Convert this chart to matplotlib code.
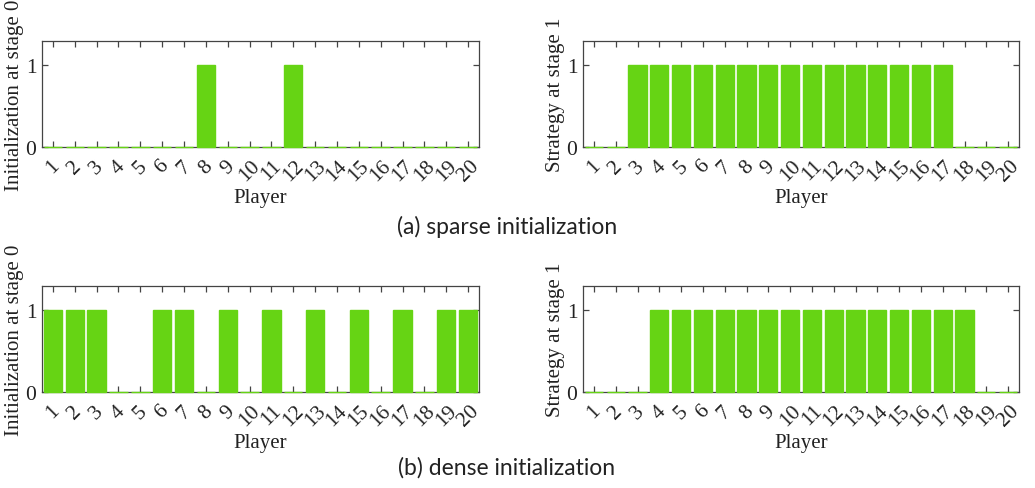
import matplotlib
matplotlib.use("Agg")
import matplotlib.pyplot as plt
from matplotlib.transforms import ScaledTranslation

# players 1..20
players = list(range(1, 21))

# (a) sparse initialization
sparse_init = [0, 0, 0, 0, 0, 0, 0, 1, 0, 0, 0, 1, 0, 0, 0, 0, 0, 0, 0, 0]
sparse_stage1 = [0, 0, 1, 1, 1, 1, 1, 1, 1, 1, 1, 1, 1, 1, 1, 1, 1, 0, 0, 0]

# (b) dense initialization
dense_init = [1, 1, 1, 0, 0, 1, 1, 0, 1, 0, 1, 0, 1, 0, 1, 0, 1, 0, 1, 1]
dense_stage1 = [0, 0, 0, 1, 1, 1, 1, 1, 1, 1, 1, 1, 1, 1, 1, 1, 1, 1, 0, 0]

captions = ["(a) sparse initialization", "(b) dense initialization"]
ylabels = ["Initialization at stage 0", "Strategy at stage 1"]

GREEN = "#66d414"
INK = "#222222"
SERIF = "Liberation Serif"

W, H = 1035, 489
fig = plt.figure(figsize=(W / 100, H / 100), dpi=100)


def px_axes(x0, x1, ytop, ybot):
    return fig.add_axes([x0 / W, 1 - ybot / H, (x1 - x0) / W, (ybot - ytop) / H])


def draw_panel(ax, values, ylabel):
    bars = ax.bar(players, values, width=0.84, color=GREEN, edgecolor=GREEN,
                  linewidth=1.0, zorder=3)
    for b in bars:
        b.set_clip_on(False)
    ax.set_xlim(0.5, 20.5)
    ax.set_ylim(0, 1.3)
    ax.set_xticks(players)
    ax.set_xticklabels([str(p) for p in players], rotation=45, ha="center",
                       fontsize=15.5, family=SERIF, color=INK)
    # nudge the rotated labels a little to the right, like the original
    shift = ScaledTranslation(2.5 / 100, 0, fig.dpi_scale_trans)
    for lbl in ax.get_xticklabels():
        lbl.set_transform(lbl.get_transform() + shift)
    ax.set_yticks([0, 1])
    ax.set_yticklabels(["0", "1"], fontsize=15.5, family=SERIF, color=INK)
    ax.tick_params(direction="in", top=True, right=True, length=4.5, width=0.9,
                   color="#444444", pad=4)
    ax.tick_params(axis="x", pad=6.5)
    for s in ax.spines.values():
        s.set_color("#444444")
        s.set_linewidth(0.9)
    ax.set_xlabel("Player", fontsize=15, family=SERIF, color=INK, labelpad=2)
    ax.set_ylabel(ylabel, fontsize=15, family=SERIF, color=INK, labelpad=1)


rows = [(sparse_init, sparse_stage1, 42, 148, 227),
        (dense_init, dense_stage1, 287, 393, 468)]

for (left_vals, right_vals, ytop, ybot, ycap), cap in zip(rows, captions):
    axl = px_axes(42, 479, ytop, ybot)
    draw_panel(axl, left_vals, ylabels[0])
    axr = px_axes(583, 1019, ytop, ybot)
    draw_panel(axr, right_vals, ylabels[1])
    fig.text(507 / W, 1 - ycap / H, cap, ha="center", va="center",
             fontsize=16.5, family="Lato", color=INK)

fig.savefig("out.png", dpi=100)
